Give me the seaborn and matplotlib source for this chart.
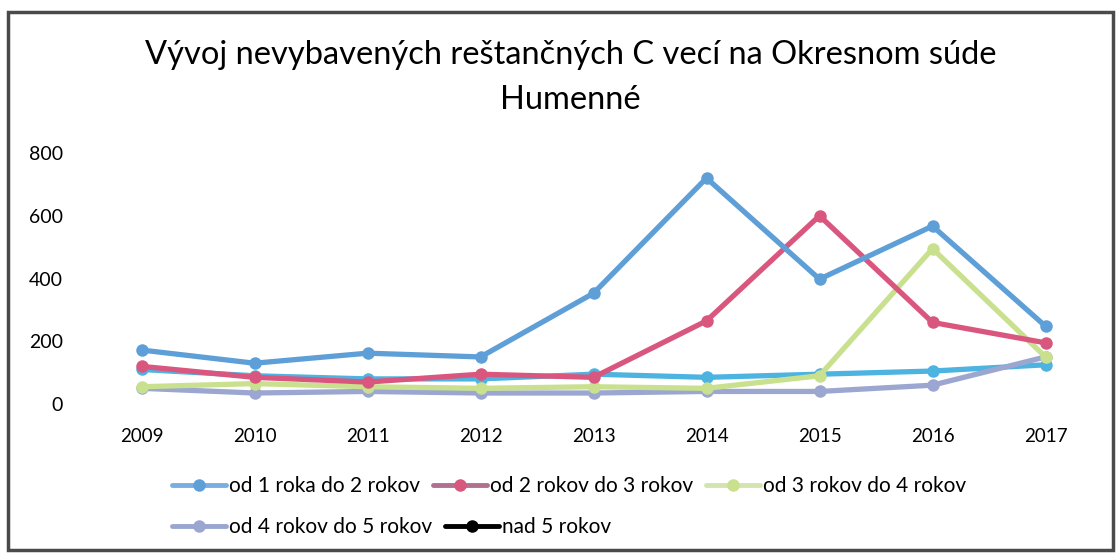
import pandas as pd
import matplotlib.pyplot as plt
import seaborn as sns
from matplotlib.patches import Rectangle
from matplotlib.lines import Line2D

# values
years = ['2009', '2010', '2011', '2012', '2013', '2014', '2015', '2016', '2017']
od1_do2 = [172, 130, 162, 150, 353, 720, 398, 567, 248]
od2_do3 = [120, 85, 70, 95, 85, 265, 600, 260, 195]
od3_do4 = [55, 65, 55, 50, 55, 50, 90, 495, 150]
od4_do5 = [50, 35, 40, 35, 35, 40, 40, 60, 150]
nad5 = [110, 90, 80, 80, 95, 85, 95, 105, 125]

series_names = ['od 1 roka do 2 rokov', 'od 2 rokov do 3 rokov', 'od 3 rokov do 4 rokov',
                'od 4 rokov do 5 rokov', 'nad 5 rokov']
series_vals = [od1_do2, od2_do3, od3_do4, od4_do5, nad5]
colors = ['#5f9fd8', '#d9577f', '#c9e08e', '#9ba7d0', '#4db3e0']
legend_colors = ['#7aaee0', '#b0708e', '#d3e4b0', '#9aa6d0', '#000000']

rows = []
for name, vals in zip(series_names, series_vals):
    for y, v in zip(years, vals):
        rows.append({'rok': y, 'pocet': v, 'kategoria': name})
df = pd.DataFrame(rows)

sns.set_style('white')
plt.rcParams['font.family'] = ['Lato', 'DejaVu Sans']
plt.rcParams['text.color'] = 'black'
plt.rcParams['xtick.color'] = 'black'
plt.rcParams['ytick.color'] = 'black'

fig = plt.figure(figsize=(11.19, 5.55), dpi=100)
ax = fig.add_axes([85 / 1119, 1 - 404 / 555, (1102 - 85) / 1119, (404 - 153) / 555])

order = [4, 3, 2, 1, 0]
for i in order:
    sub = df[df['kategoria'] == series_names[i]]
    sns.lineplot(data=sub, x='rok', y='pocet', ax=ax, color=colors[i], linewidth=3.8,
                 marker='o', markersize=9, markeredgewidth=0, sort=False)

ax.set_xlim(-0.5, len(years) - 0.5)
ax.set_ylim(0, 800)
ax.set_yticks([0, 200, 400, 600, 800])
ax.set_xlabel('')
ax.set_ylabel('')
ax.tick_params(axis='y', labelsize=14, pad=16, length=0)
ax.tick_params(axis='x', labelsize=13.5, pad=17, length=0)
for s in ax.spines.values():
    s.set_visible(False)

fig.text(0.51, 1 - 55 / 555, 'Vývoj nevybavených reštančných C vecí na Okresnom súde',
         ha='center', va='center', fontsize=23.5)
fig.text(0.51, 1 - 100 / 555, 'Humenné', ha='center', va='center', fontsize=23.5)

handles = [Line2D([0], [0], color=legend_colors[i], linewidth=3.5, marker='o', markersize=9,
                  markerfacecolor=colors[i] if i < 4 else 'black', markeredgewidth=0)
           for i in range(5)]
leg_kw = dict(loc='center left', frameon=False, fontsize=15, handlelength=2.6,
              handletextpad=0.15, columnspacing=0.6, borderaxespad=0, borderpad=0)
leg1 = fig.legend(handles[:3], series_names[:3], ncol=3,
                  bbox_to_anchor=(172 / 1119, 1 - 486 / 555), **leg_kw)
leg2 = fig.legend(handles[3:], series_names[3:], ncol=2,
                  bbox_to_anchor=(172 / 1119, 1 - 527 / 555), **leg_kw)

fig.add_artist(Rectangle((8 / 1119, 5 / 555), 1105 / 1119, 538 / 555, transform=fig.transFigure,
                         fill=False, edgecolor='#4a4a4a', linewidth=2.5))

fig.savefig('out.png', dpi=100)
